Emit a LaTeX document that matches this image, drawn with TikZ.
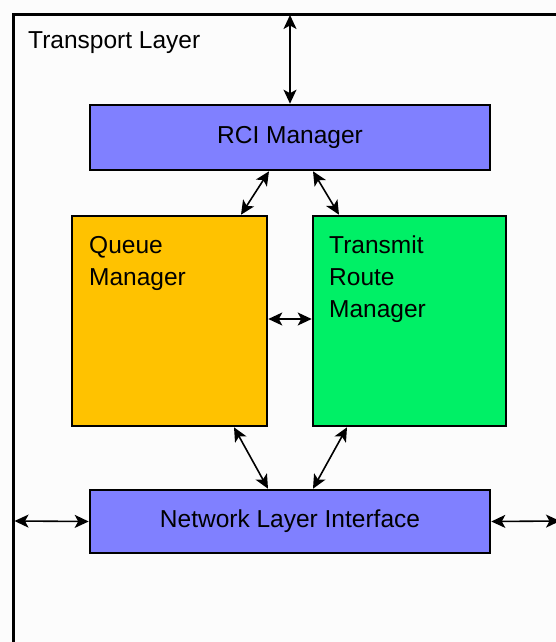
\documentclass[tikz,border=0pt]{standalone}
\usepackage{fontspec}
\setmainfont{Liberation Sans}
\usetikzlibrary{arrows.meta}
\definecolor{rciblue}{RGB}{128,128,255}
\definecolor{queueorange}{RGB}{255,194,0}
\definecolor{routegreen}{RGB}{0,240,102}
\tikzset{
	mgrbox/.style={draw=black, line width=2.6pt, inner sep=0pt},
	mgrtext/.style={anchor=north west, align=left, inner sep=0pt, font=\fontsize{24.5}{32}\selectfont},
	link/.style={line width=1.6pt, {Stealth[length=14pt,width=13pt,inset=3.5pt]}-{Stealth[length=14pt,width=13pt,inset=3.5pt]}}
}

\begin{document}
\begin{tikzpicture}[x=1pt, y=-1pt]
			%%%%% START %%%%%
			
			\useasboundingbox[fill=black!1] (0, 0) rectangle (556, 642);
			\clip (0, 0) rectangle (556, 642);
			
			\draw[line width=3pt] (13, 660) -- (13, 15) -- (580, 15);
			\node[anchor=west, inner sep=0pt, font=\fontsize{24.5}{30}\selectfont] (title) at (28, 43) {Transport Layer};
			
			\node[mgrbox, fill=rciblue, minimum width=400pt, minimum height=65pt, font=\fontsize{24.5}{30}\selectfont] (rci) at (290, 137.5) {RCI Manager};
			
			\node[mgrbox, fill=queueorange, minimum width=195pt, minimum height=210pt] (qm) at (169.5, 321) {};
			\node[mgrtext] (qmtext) at (89, 236) {Queue\\Manager};
			
			\node[mgrbox, fill=routegreen, minimum width=193pt, minimum height=210pt] (trm) at (409.5, 321) {};
			\node[mgrtext] (trmtext) at (329, 236) {Transmit\\Route\\Manager};
			
			\node[mgrbox, fill=rciblue, minimum width=400pt, minimum height=63pt, font=\fontsize{24.5}{30}\selectfont] (nli) at (290, 521.5) {Network Layer Interface};
			
			\coordinate (up) at (290, 15);
			\coordinate (left) at (14.5, 521);
			\coordinate (right) at (560, 521);
			
			\draw[link] (up) -- (rci.north);
			\draw[link] ([xshift=-21pt]rci.south) -- ([xshift=71.5pt]qm.north);
			\draw[link] ([xshift=23pt]rci.south) -- ([xshift=-70.5pt]trm.north);
			\draw[link] ([yshift=2pt]qm.east) -- ([yshift=2pt]trm.west);
			\draw[link] ([xshift=64.5pt]qm.south) -- ([xshift=-22pt]nli.north);
			\draw[link] ([xshift=-62.5pt]trm.south) -- ([xshift=23pt]nli.north);
			\draw[link] (left) -- (nli.west);
			\draw[link] (nli.east) -- (right);
			
			%%%%% END %%%%%
		\end{tikzpicture}
\end{document}
